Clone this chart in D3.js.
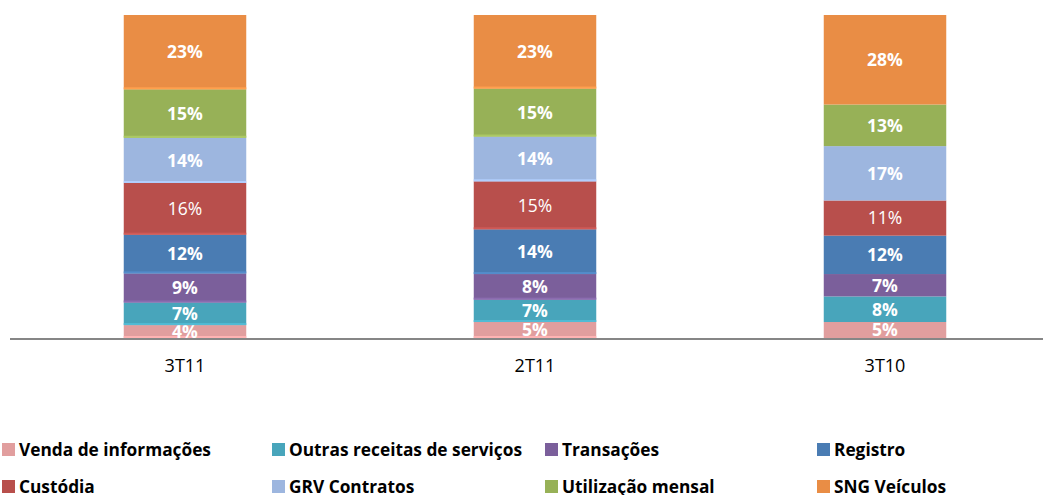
<!DOCTYPE html>
<html>
<head>
<meta charset="utf-8">
<script src="https://cdn.jsdelivr.net/npm/d3@7"></script>
<style>
  body { margin: 0; background: #fff; }
  svg { font-family: "Open Sans", sans-serif; }
</style>
</head>
<body>
<svg id="chart" width="1043" height="495"></svg>
<script>
// percent share of revenue per quarter, bottom to top
const quarters = ["3T11", "2T11", "3T10"];
const series = ["Venda de informações", "Outras receitas de serviços", "Transações", "Registro",
                "Custódia", "GRV Contratos", "Utilização mensal", "SNG Veículos"];
const venda    = [4, 5, 5];
const outras   = [7, 7, 8];
const transac  = [9, 8, 7];
const registro = [12, 14, 12];
const custodia = [16, 15, 11];
const grv      = [14, 14, 17];
const utiliz   = [15, 15, 13];
const sng      = [23, 23, 28];
const colours = ["#E19E9E", "#48A5BB", "#7B5F9B", "#4A7CB3", "#B84F4C", "#9DB6DF", "#97B157", "#E98D45"];

const cols = [venda, outras, transac, registro, custodia, grv, utiliz, sng];
const rows = quarters.map((q, i) => {
    let r = {q: q};
    series.forEach((s, j) => r[s] = cols[j][i]);
    return r;
});

const margin_top = 15, base = 338, left = 10, right = 1060;
const svg = d3.select("#chart");

const x = d3.scaleBand().domain(quarters).range([left, right]).paddingInner(0.65).paddingOuter(0.325);
const y = d3.scaleLinear().domain([0, 1]).range([base, margin_top]);

const stack = d3.stack().keys(series).offset(d3.stackOffsetExpand);
const layers = stack(rows);

svg.append("clipPath").attr("id", "plot")
    .append("rect").attr("x", 0).attr("y", 0).attr("width", 1043).attr("height", base);

const g = svg.append("g").attr("clip-path", "url(#plot)");

const layer = g.selectAll("g.layer")
    .data(layers)
    .join("g")
    .attr("class", "layer");

layer.selectAll("rect.seg")
    .data((d, i) => d.map(p => ({p: p, i: i})))
    .join("rect")
    .attr("class", "seg")
    .attr("x", d => x(d.p.data.q))
    .attr("width", x.bandwidth())
    .attr("y", d => y(d.p[1]))
    .attr("height", d => y(d.p[0]) - y(d.p[1]))
    .attr("fill", d => colours[d.i]);

// lighter edge at the bottom of each segment
layer.selectAll("rect.edge")
    .data((d, i) => d.map(p => ({p: p, i: i})).filter(d => d.p.data.q !== "3T10"))
    .join("rect")
    .attr("class", "edge")
    .attr("x", d => x(d.p.data.q))
    .attr("width", x.bandwidth())
    .attr("y", d => y(d.p[0]) - 2)
    .attr("height", 2)
    .attr("fill", d => d3.color(colours[d.i]).brighter(0.35));

layer.selectAll("text")
    .data((d, i) => d.map(p => ({p: p, i: i})))
    .join("text")
    .attr("x", d => x(d.p.data.q) + x.bandwidth() / 2)
    .attr("y", d => (y(d.p[0]) + y(d.p[1])) / 2)
    .attr("dy", "0.36em")
    .attr("text-anchor", "middle")
    .attr("fill", "#fff")
    .attr("font-size", 17.5)
    .attr("font-weight", d => d.i === 4 ? "normal" : "bold")
    .text(d => d.p.data[series[d.i]] + "%");

// axis
const xAxis = svg.append("g")
    .attr("transform", `translate(0, ${base})`)
    .call(d3.axisBottom(x).tickSize(0).tickPadding(21));
xAxis.select(".domain").remove();
xAxis.selectAll("text").attr("font-size", 18).attr("fill", "#000")
    .attr("font-family", "'Open Sans', sans-serif");

svg.append("line")
    .attr("x1", left).attr("x2", 1043)
    .attr("y1", base + 1).attr("y2", base + 1)
    .attr("stroke", "#868686").attr("stroke-width", 2);

// legend
const legX = [2, 272, 545, 817];
const legY = [449.5, 486.5];
const leg = svg.append("g").selectAll("g")
    .data(series)
    .join("g")
    .attr("transform", (d, i) => `translate(${legX[i % 4]}, ${legY[Math.floor(i / 4)]})`);
leg.append("rect")
    .attr("x", 0).attr("y", -6.5).attr("width", 13).attr("height", 13)
    .attr("fill", (d, i) => colours[i]);
leg.append("text")
    .attr("x", 17).attr("dy", "0.36em")
    .attr("font-size", 17.3).attr("font-weight", "bold").attr("fill", "#000")
    .text(d => d);
</script>
</body>
</html>
